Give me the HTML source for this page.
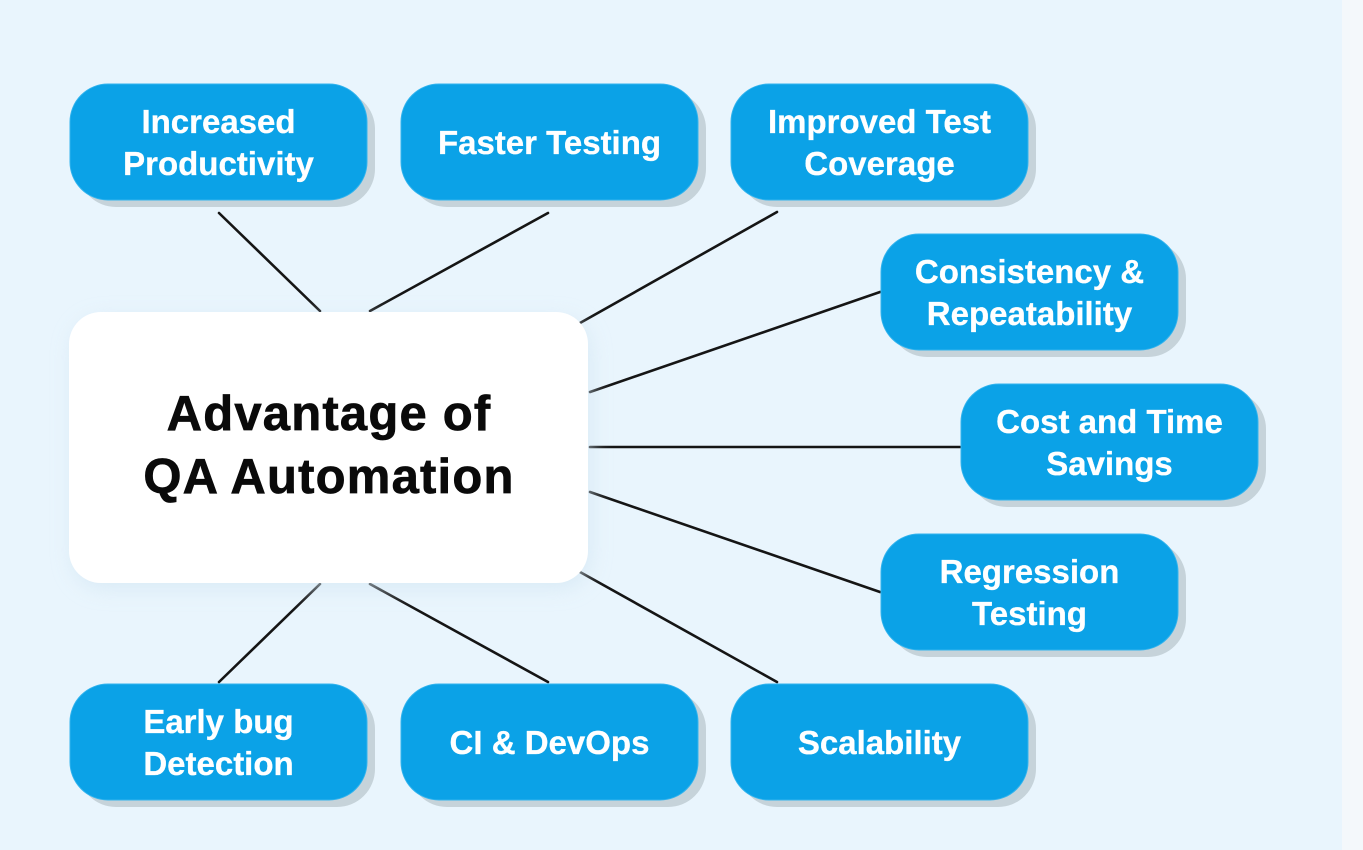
<!DOCTYPE html>
<html>
<head>
<meta charset="utf-8">
<style>
  html,body{margin:0;padding:0;background:#e9f5fd;}
  body{width:1363px;height:850px;overflow:hidden;position:relative;}
  svg{position:absolute;left:0;top:0;}
</style>
</head>
<body>
<svg width="1363" height="850" viewBox="0 0 1363 850" xmlns="http://www.w3.org/2000/svg">
  <defs>
    <filter id="soft" x="-20%" y="-20%" width="140%" height="140%">
      <feGaussianBlur stdDeviation="10"/>
    </filter>
  </defs>
  <rect x="0" y="0" width="1363" height="850" fill="#e9f5fd"/>
  <rect x="1342" y="0" width="21" height="850" fill="#f4f8fb"/>

  <!-- connectors -->
  <g stroke="#151515" stroke-width="2.6" stroke-linecap="round" fill="none">
    <line x1="219" y1="213" x2="320" y2="311"/>
    <line x1="548" y1="213" x2="370" y2="311"/>
    <line x1="777" y1="212" x2="580" y2="323"/>
    <line x1="880" y1="292" x2="590" y2="392"/>
    <line x1="960" y1="447" x2="590" y2="447"/>
    <line x1="880" y1="592" x2="590" y2="492"/>
    <line x1="777" y1="682" x2="580" y2="572"/>
    <line x1="548" y1="682" x2="370" y2="584"/>
    <line x1="219" y1="682" x2="320" y2="584"/>
  </g>

  <!-- central box -->
  <rect x="72" y="318" width="519" height="271" rx="32" fill="#d3e6f3" opacity="0.7" filter="url(#soft)"/>
  <rect x="69" y="312" width="519" height="271" rx="32" fill="#ffffff"/>
  <g font-family="Liberation Sans, Arial, sans-serif" font-weight="bold" font-size="49" fill="#0a0a0a" stroke="#0a0a0a" stroke-width="0.7" text-anchor="middle" letter-spacing="1.2">
    <text x="329" y="430">Advantage of</text>
    <text x="329" y="493">QA Automation</text>
  </g>

  <!-- blue boxes: shadows -->
  <g fill="#c6d3da">
    <rect x="78" y="91" width="297" height="116" rx="38"/>
    <rect x="409" y="91" width="297" height="116" rx="38"/>
    <rect x="739" y="91" width="297" height="116" rx="38"/>
    <rect x="889" y="241" width="297" height="116" rx="38"/>
    <rect x="969" y="391" width="297" height="116" rx="38"/>
    <rect x="889" y="541" width="297" height="116" rx="38"/>
    <rect x="78" y="691" width="297" height="116" rx="38"/>
    <rect x="409" y="691" width="297" height="116" rx="38"/>
    <rect x="739" y="691" width="297" height="116" rx="38"/>
  </g>
  <g fill="#0ba2e7" stroke="#33b4ee" stroke-width="1">
    <rect x="70" y="84" width="297" height="116" rx="38"/>
    <rect x="401" y="84" width="297" height="116" rx="38"/>
    <rect x="731" y="84" width="297" height="116" rx="38"/>
    <rect x="881" y="234" width="297" height="116" rx="38"/>
    <rect x="961" y="384" width="297" height="116" rx="38"/>
    <rect x="881" y="534" width="297" height="116" rx="38"/>
    <rect x="70" y="684" width="297" height="116" rx="38"/>
    <rect x="401" y="684" width="297" height="116" rx="38"/>
    <rect x="731" y="684" width="297" height="116" rx="38"/>
  </g>

  <!-- labels -->
  <g font-family="Liberation Sans, Arial, sans-serif" font-weight="bold" font-size="33" fill="#ffffff" stroke="#ffffff" stroke-width="0.3" text-anchor="middle">
    <text x="218.5" y="133">Increased</text>
    <text x="218.5" y="175">Productivity</text>

    <text x="549.5" y="154">Faster Testing</text>

    <text x="879.5" y="133">Improved Test</text>
    <text x="879.5" y="175">Coverage</text>

    <text x="1029.5" y="283">Consistency &amp;</text>
    <text x="1029.5" y="325">Repeatability</text>

    <text x="1109.5" y="433">Cost and Time</text>
    <text x="1109.5" y="475">Savings</text>

    <text x="1029.5" y="583">Regression</text>
    <text x="1029.5" y="625">Testing</text>

    <text x="218.5" y="733">Early bug</text>
    <text x="218.5" y="775">Detection</text>

    <text x="549.5" y="754">CI &amp; DevOps</text>

    <text x="879.5" y="754">Scalability</text>
  </g>
</svg>
</body>
</html>
